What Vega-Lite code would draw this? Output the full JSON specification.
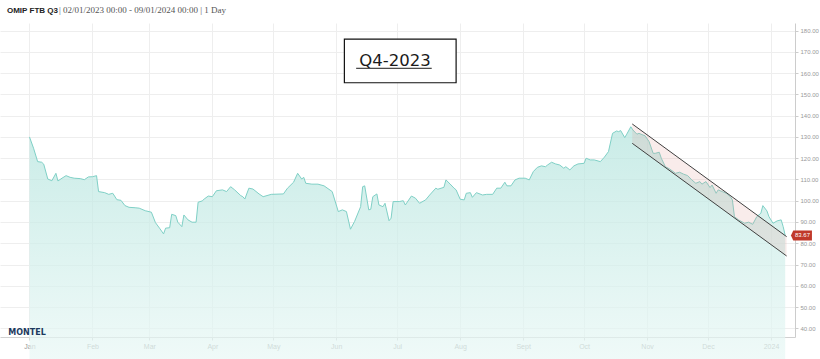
{
  "$schema": "https://vega.github.io/schema/vega-lite/v6.json",
  "width": 795,
  "height": 314,
  "autosize": "none",
  "padding": {"left": 0, "top": 23, "right": 25, "bottom": 22},
  "background": "white",
  "config": {
    "view": {"stroke": null},
    "font": "Liberation Sans",
    "axisY": {"tickCount": 15, "labelOverlap": false, "format": ".2f", "labelFontSize": 6, "labelColor": "#999999", "labelPadding": 2, "tickSize": 3, "tickColor": "#cccccc", "domainColor": "#cccccc", "gridColor": "#eeeeee"}
  },
  "datasets": {
    "price": [
      {"date": "2023-01-01", "price": 130.0},
      {"date": "2023-01-03", "price": 124.7},
      {"date": "2023-01-05", "price": 118.4},
      {"date": "2023-01-07", "price": 118.1},
      {"date": "2023-01-08", "price": 117.2},
      {"date": "2023-01-10", "price": 110.2},
      {"date": "2023-01-12", "price": 109.4},
      {"date": "2023-01-14", "price": 112.9},
      {"date": "2023-01-15", "price": 109.3},
      {"date": "2023-01-17", "price": 110.6},
      {"date": "2023-01-19", "price": 111.8},
      {"date": "2023-01-21", "price": 111.0},
      {"date": "2023-01-23", "price": 110.6},
      {"date": "2023-01-26", "price": 110.4},
      {"date": "2023-01-28", "price": 109.9},
      {"date": "2023-01-30", "price": 111.2},
      {"date": "2023-02-01", "price": 111.3},
      {"date": "2023-02-03", "price": 111.8},
      {"date": "2023-02-04", "price": 104.3},
      {"date": "2023-02-07", "price": 103.8},
      {"date": "2023-02-09", "price": 103.0},
      {"date": "2023-02-11", "price": 103.5},
      {"date": "2023-02-13", "price": 100.5},
      {"date": "2023-02-15", "price": 100.2},
      {"date": "2023-02-17", "price": 97.7},
      {"date": "2023-02-19", "price": 96.9},
      {"date": "2023-02-22", "price": 96.7},
      {"date": "2023-02-24", "price": 96.5},
      {"date": "2023-02-27", "price": 95.3},
      {"date": "2023-03-02", "price": 94.6},
      {"date": "2023-03-04", "price": 89.7},
      {"date": "2023-03-06", "price": 87.1},
      {"date": "2023-03-08", "price": 84.4},
      {"date": "2023-03-09", "price": 87.1},
      {"date": "2023-03-11", "price": 87.3},
      {"date": "2023-03-12", "price": 93.6},
      {"date": "2023-03-14", "price": 93.0},
      {"date": "2023-03-15", "price": 89.9},
      {"date": "2023-03-17", "price": 87.8},
      {"date": "2023-03-18", "price": 93.3},
      {"date": "2023-03-20", "price": 91.0},
      {"date": "2023-03-22", "price": 89.9},
      {"date": "2023-03-24", "price": 89.9},
      {"date": "2023-03-25", "price": 99.3},
      {"date": "2023-03-27", "price": 99.9},
      {"date": "2023-03-28", "price": 100.8},
      {"date": "2023-03-30", "price": 102.2},
      {"date": "2023-04-01", "price": 101.9},
      {"date": "2023-04-03", "price": 104.7},
      {"date": "2023-04-06", "price": 105.1},
      {"date": "2023-04-08", "price": 104.3},
      {"date": "2023-04-10", "price": 106.6},
      {"date": "2023-04-12", "price": 105.1},
      {"date": "2023-04-15", "price": 102.4},
      {"date": "2023-04-16", "price": 101.9},
      {"date": "2023-04-17", "price": 100.8},
      {"date": "2023-04-19", "price": 105.9},
      {"date": "2023-04-21", "price": 105.5},
      {"date": "2023-04-24", "price": 103.2},
      {"date": "2023-04-26", "price": 101.9},
      {"date": "2023-04-30", "price": 103.0},
      {"date": "2023-05-06", "price": 103.2},
      {"date": "2023-05-08", "price": 105.9},
      {"date": "2023-05-11", "price": 108.7},
      {"date": "2023-05-13", "price": 112.9},
      {"date": "2023-05-15", "price": 110.2},
      {"date": "2023-05-16", "price": 111.0},
      {"date": "2023-05-17", "price": 108.2},
      {"date": "2023-05-20", "price": 107.8},
      {"date": "2023-05-23", "price": 107.8},
      {"date": "2023-05-26", "price": 107.0},
      {"date": "2023-05-30", "price": 104.3},
      {"date": "2023-06-02", "price": 94.9},
      {"date": "2023-06-04", "price": 95.7},
      {"date": "2023-06-06", "price": 94.9},
      {"date": "2023-06-08", "price": 86.6},
      {"date": "2023-06-10", "price": 90.2},
      {"date": "2023-06-13", "price": 97.2},
      {"date": "2023-06-14", "price": 106.6},
      {"date": "2023-06-15", "price": 107.0},
      {"date": "2023-06-17", "price": 95.7},
      {"date": "2023-06-18", "price": 96.0},
      {"date": "2023-06-19", "price": 101.9},
      {"date": "2023-06-21", "price": 103.2},
      {"date": "2023-06-22", "price": 98.0},
      {"date": "2023-06-24", "price": 97.2},
      {"date": "2023-06-25", "price": 98.8},
      {"date": "2023-06-27", "price": 90.6},
      {"date": "2023-06-28", "price": 91.8},
      {"date": "2023-06-29", "price": 99.6},
      {"date": "2023-07-02", "price": 99.6},
      {"date": "2023-07-04", "price": 100.0},
      {"date": "2023-07-05", "price": 98.0},
      {"date": "2023-07-08", "price": 102.2},
      {"date": "2023-07-10", "price": 101.2},
      {"date": "2023-07-12", "price": 98.8},
      {"date": "2023-07-15", "price": 100.4},
      {"date": "2023-07-17", "price": 102.7},
      {"date": "2023-07-20", "price": 105.9},
      {"date": "2023-07-21", "price": 105.4},
      {"date": "2023-07-24", "price": 106.3},
      {"date": "2023-07-25", "price": 109.8},
      {"date": "2023-07-27", "price": 107.9},
      {"date": "2023-07-29", "price": 105.9},
      {"date": "2023-07-30", "price": 105.1},
      {"date": "2023-08-01", "price": 100.7},
      {"date": "2023-08-03", "price": 100.4},
      {"date": "2023-08-04", "price": 103.5},
      {"date": "2023-08-06", "price": 103.8},
      {"date": "2023-08-07", "price": 101.6},
      {"date": "2023-08-09", "price": 103.8},
      {"date": "2023-08-12", "price": 102.7},
      {"date": "2023-08-14", "price": 103.0},
      {"date": "2023-08-17", "price": 103.0},
      {"date": "2023-08-19", "price": 105.9},
      {"date": "2023-08-21", "price": 105.9},
      {"date": "2023-08-23", "price": 108.7},
      {"date": "2023-08-24", "price": 107.0},
      {"date": "2023-08-26", "price": 107.0},
      {"date": "2023-08-28", "price": 109.8},
      {"date": "2023-08-30", "price": 110.6},
      {"date": "2023-09-02", "price": 110.6},
      {"date": "2023-09-04", "price": 109.8},
      {"date": "2023-09-06", "price": 113.7},
      {"date": "2023-09-08", "price": 115.7},
      {"date": "2023-09-10", "price": 116.4},
      {"date": "2023-09-12", "price": 116.0},
      {"date": "2023-09-13", "price": 116.8},
      {"date": "2023-09-15", "price": 118.1},
      {"date": "2023-09-17", "price": 117.3},
      {"date": "2023-09-19", "price": 116.8},
      {"date": "2023-09-21", "price": 115.3},
      {"date": "2023-09-22", "price": 116.0},
      {"date": "2023-09-24", "price": 114.5},
      {"date": "2023-09-26", "price": 116.4},
      {"date": "2023-09-28", "price": 117.3},
      {"date": "2023-10-01", "price": 117.6},
      {"date": "2023-10-02", "price": 120.0},
      {"date": "2023-10-04", "price": 119.2},
      {"date": "2023-10-06", "price": 119.2},
      {"date": "2023-10-09", "price": 118.4},
      {"date": "2023-10-11", "price": 120.5},
      {"date": "2023-10-13", "price": 123.1},
      {"date": "2023-10-15", "price": 131.7},
      {"date": "2023-10-17", "price": 132.8},
      {"date": "2023-10-18", "price": 132.5},
      {"date": "2023-10-19", "price": 133.0},
      {"date": "2023-10-21", "price": 129.7},
      {"date": "2023-10-22", "price": 131.3},
      {"date": "2023-10-24", "price": 134.8},
      {"date": "2023-10-25", "price": 133.3},
      {"date": "2023-10-27", "price": 131.3},
      {"date": "2023-10-28", "price": 131.7},
      {"date": "2023-10-30", "price": 130.9},
      {"date": "2023-10-31", "price": 130.6},
      {"date": "2023-11-02", "price": 127.8},
      {"date": "2023-11-04", "price": 122.3},
      {"date": "2023-11-05", "price": 122.3},
      {"date": "2023-11-07", "price": 122.8},
      {"date": "2023-11-08", "price": 120.0},
      {"date": "2023-11-10", "price": 116.0},
      {"date": "2023-11-12", "price": 115.0},
      {"date": "2023-11-15", "price": 112.9},
      {"date": "2023-11-17", "price": 113.4},
      {"date": "2023-11-19", "price": 112.5},
      {"date": "2023-11-21", "price": 111.8},
      {"date": "2023-11-23", "price": 109.8},
      {"date": "2023-11-25", "price": 108.2},
      {"date": "2023-11-27", "price": 109.0},
      {"date": "2023-11-28", "price": 107.8},
      {"date": "2023-11-30", "price": 109.0},
      {"date": "2023-12-02", "price": 106.2},
      {"date": "2023-12-03", "price": 107.4},
      {"date": "2023-12-05", "price": 103.5},
      {"date": "2023-12-06", "price": 105.1},
      {"date": "2023-12-08", "price": 104.3},
      {"date": "2023-12-10", "price": 103.5},
      {"date": "2023-12-12", "price": 101.9},
      {"date": "2023-12-13", "price": 100.4},
      {"date": "2023-12-14", "price": 92.5},
      {"date": "2023-12-16", "price": 91.0},
      {"date": "2023-12-19", "price": 89.4},
      {"date": "2023-12-21", "price": 89.9},
      {"date": "2023-12-23", "price": 88.9},
      {"date": "2023-12-25", "price": 92.5},
      {"date": "2023-12-27", "price": 94.1},
      {"date": "2023-12-28", "price": 97.7},
      {"date": "2023-12-30", "price": 95.2},
      {"date": "2023-12-31", "price": 92.5},
      {"date": "2024-01-02", "price": 89.4},
      {"date": "2024-01-04", "price": 90.5},
      {"date": "2024-01-06", "price": 91.0},
      {"date": "2024-01-07", "price": 87.8},
      {"date": "2024-01-08", "price": 83.67}
    ],
    "channel": [
      {"date": "2023-10-24T17:00:00Z", "upper": 136.1, "lower": 127.0},
      {"date": "2024-01-08T17:00:00Z", "upper": 83.1, "lower": 74.0}
    ]
  },
  "layer": [
    {
      "data": {"name": "price"},
      "mark": {
        "type": "area",
        "line": {"color": "#7fd0c6", "strokeWidth": 1},
        "color": {
          "x1": 0, "y1": 0, "x2": 0, "y2": 1,
          "gradient": "linear",
          "stops": [
            {"offset": 0, "color": "#b3e4dd"},
            {"offset": 1, "color": "#f5fcfb"}
          ]
        }
      },
      "encoding": {
        "x": {
          "field": "date",
          "type": "temporal",
          "scale": {
            "type": "utc",
            "domain": [
              {"year": 2022, "month": 12, "date": 17, "hours": 11, "minutes": 30, "utc": true},
              {"year": 2024, "month": 1, "date": 12, "hours": 19, "minutes": 40, "utc": true}
            ]
          },
          "axis": {
            "title": null,
            "tickCount": {"interval": "month", "step": 1},
            "labelExpr": "utcmonth(datum.value) == 0 && utcyear(datum.value) == 2024 ? '2024' : ['Jan','Feb','Mar','Apr','May','Jun','Jul','Aug','Sept','Oct','Nov','Dec'][utcmonth(datum.value)]",
            "grid": true,
            "gridColor": "#eeeeee",
            "domainColor": "#d0d0d0",
            "tickColor": "#cccccc",
            "tickSize": 3,
            "labelColor": "#999999",
            "labelFontSize": 7,
            "labelFont": "Liberation Sans",
            "labelPadding": 2,
            "labelFlush": false,
            "labelOverlap": false
          }
        },
        "y": {
          "field": "price",
          "type": "quantitative",
          "scale": {"domain": [35.9, 183.6], "nice": false, "zero": false},
          "axis": {
            "title": null,
            "orient": "right",
            "values": [40, 50, 60, 70, 80, 90, 100, 110, 120, 130, 140, 150, 160, 170, 180],
            "tickCount": 15,
            "format": ".2f",
            "grid": true,
            "labelFont": "Liberation Sans",
            "labelOverlap": false
          }
        }
      }
    },
    {
      "data": {"name": "channel"},
      "mark": {"type": "area", "color": "#e3a29c", "opacity": 0.2},
      "encoding": {
        "x": {"field": "date", "type": "temporal"},
        "y": {"field": "upper", "type": "quantitative"},
        "y2": {"field": "lower"}
      }
    },
    {
      "data": {"name": "channel"},
      "mark": {"type": "line", "color": "#404040", "strokeWidth": 1},
      "encoding": {
        "x": {"field": "date", "type": "temporal"},
        "y": {"field": "upper", "type": "quantitative"}
      }
    },
    {
      "data": {"name": "channel"},
      "mark": {"type": "line", "color": "#404040", "strokeWidth": 1},
      "encoding": {
        "x": {"field": "date", "type": "temporal"},
        "y": {"field": "lower", "type": "quantitative"}
      }
    },
    {
      "data": {"values": [{"start": "2023-06-05T00:00:00Z", "end": "2023-07-30T00:00:00Z", "top": 176.0, "bottom": 155.5}]},
      "mark": {"type": "rect", "fill": "white", "stroke": "#111111", "strokeWidth": 1.2},
      "encoding": {
        "x": {"field": "start", "type": "temporal"},
        "x2": {"field": "end"},
        "y": {"field": "top", "type": "quantitative"},
        "y2": {"field": "bottom"}
      }
    },
    {
      "data": {"values": [{"mid": "2023-06-29T22:00:00Z", "level": 163.5, "label": "Q4-2023"}]},
      "mark": {"type": "text", "font": "DejaVu Sans", "fontSize": 16.5, "color": "#1a1a1a", "align": "center", "baseline": "alphabetic"},
      "encoding": {
        "x": {"field": "mid", "type": "temporal"},
        "y": {"field": "level", "type": "quantitative"},
        "text": {"field": "label"}
      }
    },
    {
      "data": {"values": [{"start": "2023-06-10T19:00:00Z", "end": "2023-07-18T00:00:00Z", "level": 162.3}]},
      "mark": {"type": "rule", "color": "#1a1a1a", "strokeWidth": 1},
      "encoding": {
        "x": {"field": "start", "type": "temporal"},
        "x2": {"field": "end"},
        "y": {"field": "level", "type": "quantitative"}
      }
    },
    {
      "data": {"values": [{"when": "2022-12-20T22:00:00Z", "level": 188.5, "info": "OMIP FTB Q3"}]},
      "mark": {"type": "text", "font": "Liberation Sans", "fontWeight": "bold", "fontSize": 8, "color": "#222222", "align": "left", "baseline": "alphabetic"},
      "encoding": {
        "x": {"field": "when", "type": "temporal"},
        "y": {"field": "level", "type": "quantitative"},
        "text": {"field": "info"}
      }
    },
    {
      "data": {"values": [{"when": "2023-01-15T12:00:00Z", "level": 188.5, "info": "| 02/01/2023 00:00 - 09/01/2024 00:00 | 1 Day"}]},
      "mark": {"type": "text", "font": "Liberation Serif", "fontSize": 9, "color": "#555555", "align": "left", "baseline": "alphabetic"},
      "encoding": {
        "x": {"field": "when", "type": "temporal"},
        "y": {"field": "level", "type": "quantitative"},
        "text": {"field": "info"}
      }
    },
    {
      "data": {"values": [{"when": "2022-12-21T14:00:00Z", "level": 36.9, "brand": "MONTEL"}]},
      "mark": {"type": "text", "font": "DejaVu Sans", "fontWeight": "bold", "fontSize": 8, "color": "#1d3a5e", "align": "left", "baseline": "alphabetic"},
      "encoding": {
        "x": {"field": "when", "type": "temporal"},
        "y": {"field": "level", "type": "quantitative"},
        "text": {"field": "brand"}
      }
    },
    {
      "data": {"values": [{"when": "2024-01-16T00:00:00Z", "last": 83.67}]},
      "mark": {"type": "point", "shape": "M-1,0L-0.78,-0.48L1,-0.48L1,0.48L-0.78,0.48Z", "filled": true, "color": "#c0392b", "opacity": 1, "size": 441},
      "encoding": {
        "x": {"field": "when", "type": "temporal"},
        "y": {"field": "last", "type": "quantitative"}
      }
    },
    {
      "data": {"values": [{"when": "2024-01-16T00:00:00Z", "last": 83.67}]},
      "mark": {"type": "text", "font": "Liberation Sans", "fontSize": 6, "color": "white", "align": "center", "baseline": "middle", "dx": 1},
      "encoding": {
        "x": {"field": "when", "type": "temporal"},
        "y": {"field": "last", "type": "quantitative"},
        "text": {"field": "last", "type": "quantitative", "format": ".2f"}
      }
    }
  ]
}
